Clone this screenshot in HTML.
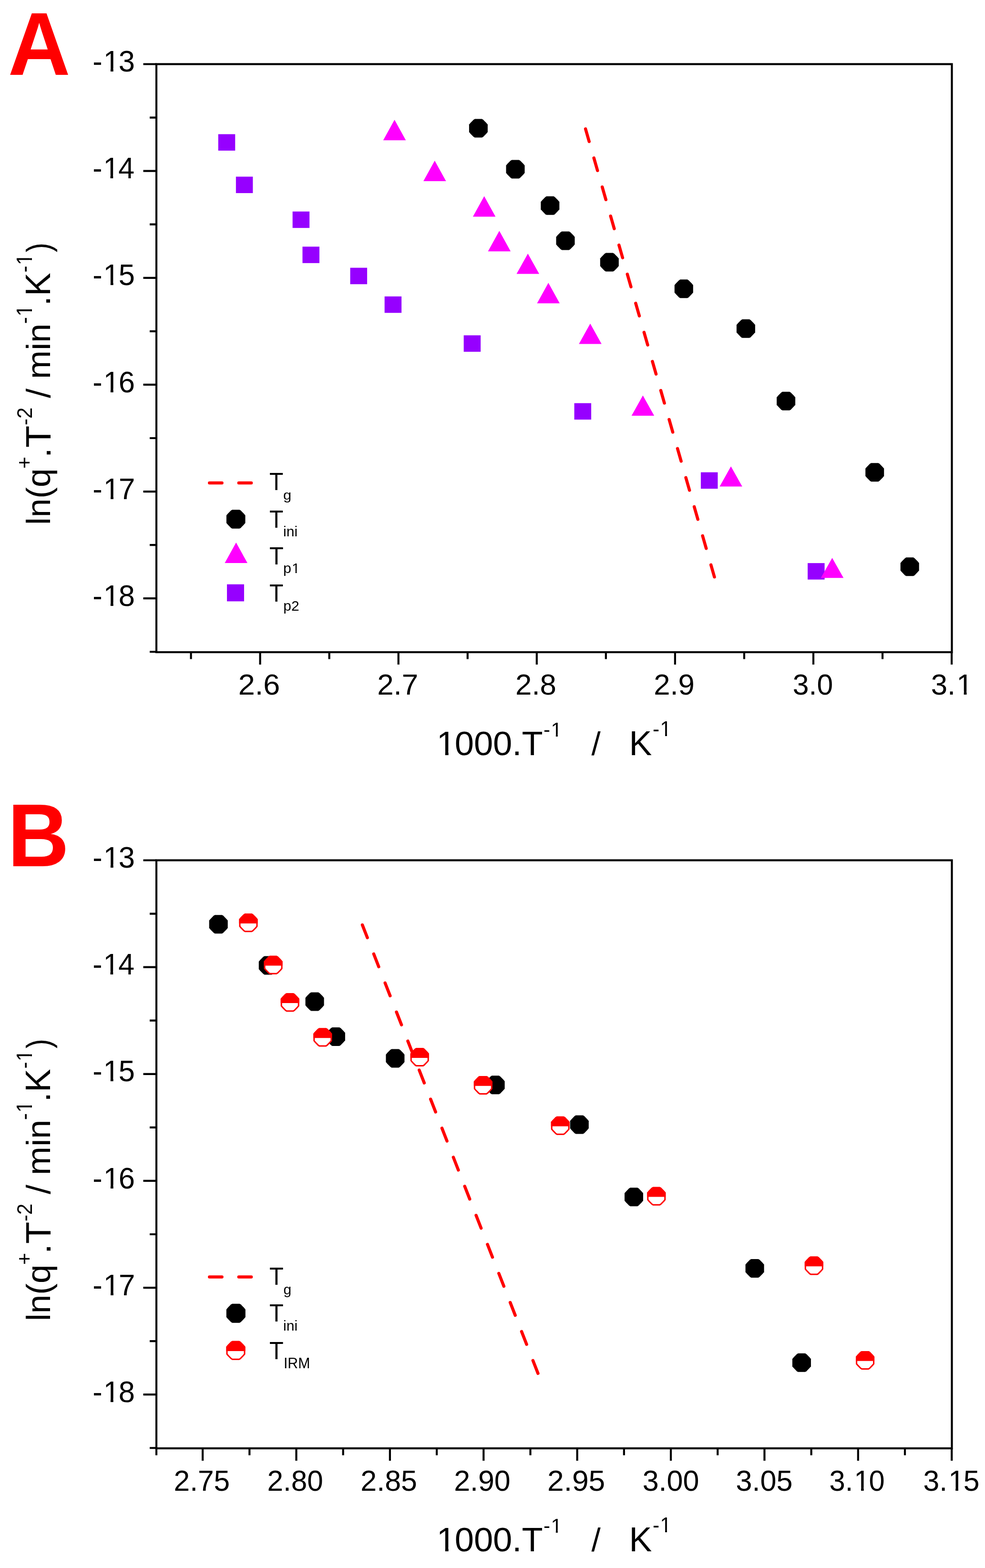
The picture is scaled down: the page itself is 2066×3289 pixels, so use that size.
<!DOCTYPE html>
<html lang="en"><head><meta charset="utf-8"><title>ln(q+.T-2) vs 1000/T</title>
<style>html,body{margin:0;padding:0;background:#fff;}body{width:2066px;height:3289px;overflow:hidden;}svg{display:block;}text{font-kerning:none;}</style>
</head><body>
<svg width="2066" height="3289" viewBox="0 0 2066 3289" font-family="'Liberation Sans', Arial, Helvetica, sans-serif">
<defs><clipPath id="c1" clipPathUnits="userSpaceOnUse"><rect x="-20" y="-120" width="140" height="108.53"/><rect x="24.85" y="-13.47" width="9.44" height="15.47"/></clipPath></defs>
<path d="M300.5 134.50H328.0 M300.5 358.64H328.0 M300.5 582.78H328.0 M300.5 806.92H328.0 M300.5 1031.06H328.0 M300.5 1255.20H328.0 M314 246.57H328.0 M314 470.71H328.0 M314 694.85H328.0 M314 918.99H328.0 M314 1143.13H328.0 M314 1367.27H328.0 M545.60 1368.00V1394.00 M835.70 1368.00V1394.00 M1125.80 1368.00V1394.00 M1415.90 1368.00V1394.00 M1706.00 1368.00V1394.00 M1996.10 1368.00V1394.00 M400.55 1368.00V1382.50 M690.65 1368.00V1382.50 M980.75 1368.00V1382.50 M1270.85 1368.00V1382.50 M1560.95 1368.00V1382.50 M1851.05 1368.00V1382.50" stroke="#000" stroke-width="4.2" fill="none"/>
<rect x="328.0" y="134.5" width="1668.5" height="1233.5" fill="none" stroke="#000" stroke-width="4.2"/>
<g transform="translate(194.17,150.10) scale(0.61388,0.62500)"><text x="0.0" font-size="100" fill="#000" xml:space="preserve">-</text><g transform="translate(36.6,0)"><text font-size="100" fill="#000" clip-path="url(#c1)">1</text></g><text x="88.9" font-size="100" fill="#000" xml:space="preserve">3</text></g>
<g transform="translate(194.20,374.24) scale(0.60733,0.62500)"><text x="0.0" font-size="100" fill="#000" xml:space="preserve">-</text><g transform="translate(36.6,0)"><text font-size="100" fill="#000" clip-path="url(#c1)">1</text></g><text x="88.9" font-size="100" fill="#000" xml:space="preserve">4</text></g>
<g transform="translate(194.18,598.38) scale(0.61300,0.62500)"><text x="0.0" font-size="100" fill="#000" xml:space="preserve">-</text><g transform="translate(36.6,0)"><text font-size="100" fill="#000" clip-path="url(#c1)">1</text></g><text x="88.9" font-size="100" fill="#000" xml:space="preserve">5</text></g>
<g transform="translate(194.17,822.52) scale(0.61388,0.62500)"><text x="0.0" font-size="100" fill="#000" xml:space="preserve">-</text><g transform="translate(36.6,0)"><text font-size="100" fill="#000" clip-path="url(#c1)">1</text></g><text x="88.9" font-size="100" fill="#000" xml:space="preserve">6</text></g>
<g transform="translate(194.16,1046.66) scale(0.61677,0.62500)"><text x="0.0" font-size="100" fill="#000" xml:space="preserve">-</text><g transform="translate(36.6,0)"><text font-size="100" fill="#000" clip-path="url(#c1)">1</text></g><text x="88.9" font-size="100" fill="#000" xml:space="preserve">7</text></g>
<g transform="translate(194.17,1270.80) scale(0.61366,0.62500)"><text x="0.0" font-size="100" fill="#000" xml:space="preserve">-</text><g transform="translate(36.6,0)"><text font-size="100" fill="#000" clip-path="url(#c1)">1</text></g><text x="88.9" font-size="100" fill="#000" xml:space="preserve">8</text></g>
<g transform="translate(499.83,1457.20) scale(0.62968,0.61017)"><text x="0.0" font-size="100" fill="#000" xml:space="preserve">2.6</text></g>
<g transform="translate(791.19,1457.20) scale(0.61804,0.61017)"><text x="0.0" font-size="100" fill="#000" xml:space="preserve">2.7</text></g>
<g transform="translate(1081.10,1457.20) scale(0.61710,0.61017)"><text x="0.0" font-size="100" fill="#000" xml:space="preserve">2.8</text></g>
<g transform="translate(1371.20,1457.20) scale(0.61664,0.61017)"><text x="0.0" font-size="100" fill="#000" xml:space="preserve">2.9</text></g>
<g transform="translate(1662.79,1457.20) scale(0.60701,0.61017)"><text x="0.0" font-size="100" fill="#000" xml:space="preserve">3.0</text></g>
<g transform="translate(1952.75,1457.20) scale(0.61776,0.61017)"><text x="0.0" font-size="100" fill="#000" xml:space="preserve">3.</text><g transform="translate(86.7,0)"><text font-size="100" fill="#000" clip-path="url(#c1)">1</text></g></g>
<g transform="translate(913.45,1584.12) scale(0.72337,0.70056)"><g transform="translate(3.3,0)"><text font-size="100" fill="#000" clip-path="url(#c1)">1</text></g><text x="55.6" font-size="100" fill="#000" xml:space="preserve">000.T</text></g>
<g transform="translate(1140.03,1544.60) scale(0.42031,0.43169)"><text x="0.0" font-size="100" fill="#000" xml:space="preserve">-</text><g transform="translate(36.6,0)"><text font-size="100" fill="#000" clip-path="url(#c1)">1</text></g></g>
<g transform="translate(1240.40,1583.94) scale(0.69107,0.67677)"><text x="0.0" font-size="100" fill="#000" xml:space="preserve">/</text></g>
<g transform="translate(1319.41,1584.30) scale(0.71811,0.71658)"><text x="0.0" font-size="100" fill="#000" xml:space="preserve">K</text></g>
<g transform="translate(1369.02,1544.40) scale(0.42333,0.43460)"><text x="0.0" font-size="100" fill="#000" xml:space="preserve">-</text><g transform="translate(36.6,0)"><text font-size="100" fill="#000" clip-path="url(#c1)">1</text></g></g>
<g transform="rotate(-90)"><g transform="translate(-1101.10,105.16) scale(0.71283,0.71020)"><text x="0.0" font-size="100" fill="#000" xml:space="preserve">ln(q</text></g><g transform="translate(-982.91,66.26) scale(0.43224,0.43944)"><text x="0.0" font-size="100" fill="#000" xml:space="preserve">+</text></g><g transform="translate(-960.13,105.60) scale(0.75928,0.74565)"><text x="0.0" font-size="100" fill="#000" xml:space="preserve">.T</text></g><g transform="translate(-891.97,66.70) scale(0.42168,0.44827)"><text x="0.0" font-size="100" fill="#000" xml:space="preserve">-2</text></g><g transform="translate(-835.00,105.12) scale(0.72120,0.70128)"><text x="0.0" font-size="100" fill="#000" xml:space="preserve">/ min</text></g><g transform="translate(-679.31,67.00) scale(0.42938,0.46076)"><text x="0.0" font-size="100" fill="#000" xml:space="preserve">-</text><g transform="translate(36.6,0)"><text font-size="100" fill="#000" clip-path="url(#c1)">1</text></g></g><g transform="translate(-641.39,105.40) scale(0.73253,0.74711)"><text x="0.0" font-size="100" fill="#000" xml:space="preserve">.K</text></g><g transform="translate(-571.58,67.00) scale(0.42333,0.46076)"><text x="0.0" font-size="100" fill="#000" xml:space="preserve">-</text><g transform="translate(36.6,0)"><text font-size="100" fill="#000" clip-path="url(#c1)">1</text></g></g><g transform="translate(-529.05,105.13) scale(0.59592,0.70843)"><text x="0.0" font-size="100" fill="#000" xml:space="preserve">)</text></g></g>
<g transform="translate(16.69,156.90) scale(1.81249,1.87358)"><text x="0.0" font-size="100" fill="#f00" font-weight="bold" xml:space="preserve">A</text></g>
<path d="M1228.1 270.3L1498.5 1210.3" stroke="#f00" stroke-width="6.5" stroke-linecap="round" stroke-dasharray="27.6 35.84" fill="none"/>
<rect x="457.75" y="281.45" width="35.5" height="34.5" fill="#9600ff"/>
<rect x="494.85" y="370.55" width="35.5" height="34.5" fill="#9600ff"/>
<rect x="613.65" y="443.65" width="35.5" height="34.5" fill="#9600ff"/>
<rect x="634.45" y="517.35" width="35.5" height="34.5" fill="#9600ff"/>
<rect x="734.55" y="561.65" width="35.5" height="34.5" fill="#9600ff"/>
<rect x="806.65" y="621.75" width="35.5" height="34.5" fill="#9600ff"/>
<rect x="972.65" y="703.35" width="35.5" height="34.5" fill="#9600ff"/>
<rect x="1204.55" y="845.65" width="35.5" height="34.5" fill="#9600ff"/>
<rect x="1469.95" y="990.65" width="35.5" height="34.5" fill="#9600ff"/>
<rect x="1694.05" y="1181.15" width="35.5" height="34.5" fill="#9600ff"/>
<path d="M827.50 251.20L851.25 294.20H803.75Z" fill="#ff00ff"/>
<path d="M911.80 337.10L935.55 380.10H888.05Z" fill="#ff00ff"/>
<path d="M1015.60 411.50L1039.35 454.50H991.85Z" fill="#ff00ff"/>
<path d="M1047.30 484.20L1071.05 527.20H1023.55Z" fill="#ff00ff"/>
<path d="M1107.20 532.10L1130.95 574.40H1083.45Z" fill="#ff00ff"/>
<path d="M1150.20 593.30L1173.95 636.20H1126.45Z" fill="#ff00ff"/>
<path d="M1238.00 678.70L1261.75 721.60H1214.25Z" fill="#ff00ff"/>
<path d="M1348.40 829.40L1372.15 872.00H1324.65Z" fill="#ff00ff"/>
<path d="M1533.10 978.30L1556.85 1020.60H1509.35Z" fill="#ff00ff"/>
<path d="M1745.50 1170.30L1769.25 1212.30H1721.75Z" fill="#ff00ff"/>
<path d="M1010.94 249.60L1013.55 251.21L1019.78 257.54L1022.90 261.26L1022.90 276.94L1019.78 280.66L1013.55 286.99L1010.94 288.60L995.86 288.60L993.25 286.99L987.02 280.66L983.90 276.94L983.90 261.26L987.02 257.54L993.25 251.21L995.86 249.60Z" fill="#000"/>
<path d="M1088.54 335.40L1091.15 337.01L1097.38 343.34L1100.50 347.06L1100.50 362.74L1097.38 366.46L1091.15 372.79L1088.54 374.40L1073.46 374.40L1070.85 372.79L1064.62 366.46L1061.50 362.74L1061.50 347.06L1064.62 343.34L1070.85 337.01L1073.46 335.40Z" fill="#000"/>
<path d="M1161.34 411.80L1163.95 413.41L1170.18 419.74L1173.30 423.46L1173.30 439.14L1170.18 442.86L1163.95 449.19L1161.34 450.80L1146.26 450.80L1143.65 449.19L1137.42 442.86L1134.30 439.14L1134.30 423.46L1137.42 419.74L1143.65 413.41L1146.26 411.80Z" fill="#000"/>
<path d="M1193.54 485.40L1196.15 487.01L1202.38 493.34L1205.50 497.06L1205.50 512.74L1202.38 516.46L1196.15 522.79L1193.54 524.40L1178.46 524.40L1175.85 522.79L1169.62 516.46L1166.50 512.74L1166.50 497.06L1169.62 493.34L1175.85 487.01L1178.46 485.40Z" fill="#000"/>
<path d="M1285.84 530.60L1288.45 532.21L1294.68 538.54L1297.80 542.26L1297.80 557.94L1294.68 561.66L1288.45 567.99L1285.84 569.60L1270.76 569.60L1268.15 567.99L1261.92 561.66L1258.80 557.94L1258.80 542.26L1261.92 538.54L1268.15 532.21L1270.76 530.60Z" fill="#000"/>
<path d="M1441.84 586.30L1444.45 587.91L1450.68 594.24L1453.80 597.96L1453.80 613.64L1450.68 617.36L1444.45 623.69L1441.84 625.30L1426.76 625.30L1424.15 623.69L1417.92 617.36L1414.80 613.64L1414.80 597.96L1417.92 594.24L1424.15 587.91L1426.76 586.30Z" fill="#000"/>
<path d="M1571.94 669.80L1574.55 671.41L1580.78 677.74L1583.90 681.46L1583.90 697.14L1580.78 700.86L1574.55 707.19L1571.94 708.80L1556.86 708.80L1554.25 707.19L1548.02 700.86L1544.90 697.14L1544.90 681.46L1548.02 677.74L1554.25 671.41L1556.86 669.80Z" fill="#000"/>
<path d="M1656.14 821.80L1658.75 823.41L1664.98 829.74L1668.10 833.46L1668.10 849.14L1664.98 852.86L1658.75 859.19L1656.14 860.80L1641.06 860.80L1638.45 859.19L1632.22 852.86L1629.10 849.14L1629.10 833.46L1632.22 829.74L1638.45 823.41L1641.06 821.80Z" fill="#000"/>
<path d="M1842.24 971.20L1844.85 972.81L1851.08 979.14L1854.20 982.86L1854.20 998.54L1851.08 1002.26L1844.85 1008.59L1842.24 1010.20L1827.16 1010.20L1824.55 1008.59L1818.32 1002.26L1815.20 998.54L1815.20 982.86L1818.32 979.14L1824.55 972.81L1827.16 971.20Z" fill="#000"/>
<path d="M1915.74 1169.30L1918.35 1170.91L1924.58 1177.24L1927.70 1180.96L1927.70 1196.64L1924.58 1200.36L1918.35 1206.69L1915.74 1208.30L1900.66 1208.30L1898.05 1206.69L1891.82 1200.36L1888.70 1196.64L1888.70 1180.96L1891.82 1177.24L1898.05 1170.91L1900.66 1169.30Z" fill="#000"/>
<path d="M439.35 1013.1H465.55M500.85 1013.1H527.05" stroke="#f00" stroke-width="6.5" stroke-linecap="round"/>
<path d="M502.35 1069.20L505.01 1070.83L511.34 1077.26L514.50 1081.04L514.50 1096.96L511.34 1100.74L505.01 1107.17L502.35 1108.80L487.05 1108.80L484.39 1107.17L478.06 1100.74L474.90 1096.96L474.90 1081.04L478.06 1077.26L484.39 1070.83L487.05 1069.20Z" fill="#000"/>
<path d="M495.20 1138.10L519.00 1181.10H471.40Z" fill="#ff00ff"/>
<rect x="476.05" y="1225.65" width="35.9" height="35.7" fill="#9600ff"/>
<g transform="translate(565.02,1027.90) scale(0.47928,0.51890)"><text x="0.0" font-size="100" fill="#000" xml:space="preserve">T</text></g>
<g transform="translate(594.00,1047.79) scale(0.30909,0.28489)"><text x="0.0" font-size="100" fill="#000" xml:space="preserve">g</text></g>
<g transform="translate(565.02,1106.90) scale(0.47928,0.51454)"><text x="0.0" font-size="100" fill="#000" xml:space="preserve">T</text></g>
<g transform="translate(593.98,1125.40) scale(0.30131,0.29119)"><text x="0.0" font-size="100" fill="#000" xml:space="preserve">ini</text></g>
<g transform="translate(564.91,1184.00) scale(0.48636,0.51309)"><text x="0.0" font-size="100" fill="#000" xml:space="preserve">T</text></g>
<g transform="translate(594.03,1201.79) scale(0.30536,0.29927)"><text x="0.0" font-size="100" fill="#000" xml:space="preserve">p</text><g transform="translate(58.9,0)"><text font-size="100" fill="#000" clip-path="url(#c1)">1</text></g></g>
<g transform="translate(565.02,1261.50) scale(0.48105,0.51890)"><text x="0.0" font-size="100" fill="#000" xml:space="preserve">T</text></g>
<g transform="translate(594.27,1280.85) scale(0.29973,0.29147)"><text x="0.0" font-size="100" fill="#000" xml:space="preserve">p2</text></g>
<path d="M300.5 1804.50H328.0 M300.5 2028.64H328.0 M300.5 2252.78H328.0 M300.5 2476.92H328.0 M300.5 2701.06H328.0 M300.5 2925.20H328.0 M314 1916.57H328.0 M314 2140.71H328.0 M314 2364.85H328.0 M314 2588.99H328.0 M314 2813.13H328.0 M314 3037.27H328.0 M425.10 3038.00V3064.00 M621.49 3038.00V3064.00 M817.88 3038.00V3064.00 M1014.27 3038.00V3064.00 M1210.66 3038.00V3064.00 M1407.05 3038.00V3064.00 M1603.44 3038.00V3064.00 M1799.83 3038.00V3064.00 M1996.22 3038.00V3064.00 M328.00 3038.00V3052.50 M523.29 3038.00V3052.50 M719.68 3038.00V3052.50 M916.07 3038.00V3052.50 M1112.46 3038.00V3052.50 M1308.85 3038.00V3052.50 M1505.24 3038.00V3052.50 M1701.63 3038.00V3052.50 M1898.02 3038.00V3052.50" stroke="#000" stroke-width="4.2" fill="none"/>
<rect x="328.0" y="1804.5" width="1668.5" height="1233.5" fill="none" stroke="#000" stroke-width="4.2"/>
<g transform="translate(194.17,1820.10) scale(0.61388,0.62500)"><text x="0.0" font-size="100" fill="#000" xml:space="preserve">-</text><g transform="translate(36.6,0)"><text font-size="100" fill="#000" clip-path="url(#c1)">1</text></g><text x="88.9" font-size="100" fill="#000" xml:space="preserve">3</text></g>
<g transform="translate(194.20,2044.24) scale(0.60733,0.62500)"><text x="0.0" font-size="100" fill="#000" xml:space="preserve">-</text><g transform="translate(36.6,0)"><text font-size="100" fill="#000" clip-path="url(#c1)">1</text></g><text x="88.9" font-size="100" fill="#000" xml:space="preserve">4</text></g>
<g transform="translate(194.18,2268.38) scale(0.61300,0.62500)"><text x="0.0" font-size="100" fill="#000" xml:space="preserve">-</text><g transform="translate(36.6,0)"><text font-size="100" fill="#000" clip-path="url(#c1)">1</text></g><text x="88.9" font-size="100" fill="#000" xml:space="preserve">5</text></g>
<g transform="translate(194.17,2492.52) scale(0.61388,0.62500)"><text x="0.0" font-size="100" fill="#000" xml:space="preserve">-</text><g transform="translate(36.6,0)"><text font-size="100" fill="#000" clip-path="url(#c1)">1</text></g><text x="88.9" font-size="100" fill="#000" xml:space="preserve">6</text></g>
<g transform="translate(194.16,2716.66) scale(0.61677,0.62500)"><text x="0.0" font-size="100" fill="#000" xml:space="preserve">-</text><g transform="translate(36.6,0)"><text font-size="100" fill="#000" clip-path="url(#c1)">1</text></g><text x="88.9" font-size="100" fill="#000" xml:space="preserve">7</text></g>
<g transform="translate(194.17,2940.80) scale(0.61366,0.62500)"><text x="0.0" font-size="100" fill="#000" xml:space="preserve">-</text><g transform="translate(36.6,0)"><text font-size="100" fill="#000" clip-path="url(#c1)">1</text></g><text x="88.9" font-size="100" fill="#000" xml:space="preserve">8</text></g>
<g transform="translate(364.56,3127.20) scale(0.60410,0.61017)"><text x="0.0" font-size="100" fill="#000" xml:space="preserve">2.75</text></g>
<g transform="translate(560.47,3127.20) scale(0.60314,0.61017)"><text x="0.0" font-size="100" fill="#000" xml:space="preserve">2.80</text></g>
<g transform="translate(756.33,3127.20) scale(0.60949,0.61017)"><text x="0.0" font-size="100" fill="#000" xml:space="preserve">2.85</text></g>
<g transform="translate(952.24,3127.20) scale(0.60853,0.61017)"><text x="0.0" font-size="100" fill="#000" xml:space="preserve">2.90</text></g>
<g transform="translate(1147.96,3127.20) scale(0.62352,0.61017)"><text x="0.0" font-size="100" fill="#000" xml:space="preserve">2.95</text></g>
<g transform="translate(1347.68,3127.20) scale(0.60991,0.61017)"><text x="0.0" font-size="100" fill="#000" xml:space="preserve">3.00</text></g>
<g transform="translate(1543.57,3127.20) scale(0.61086,0.61017)"><text x="0.0" font-size="100" fill="#000" xml:space="preserve">3.05</text></g>
<g transform="translate(1739.53,3127.20) scale(0.59653,0.61017)"><text x="0.0" font-size="100" fill="#000" xml:space="preserve">3.</text><g transform="translate(86.7,0)"><text font-size="100" fill="#000" clip-path="url(#c1)">1</text></g><text x="139.0" font-size="100" fill="#000" xml:space="preserve">0</text></g>
<g transform="translate(1936.49,3127.20) scale(0.60711,0.61017)"><text x="0.0" font-size="100" fill="#000" xml:space="preserve">3.</text><g transform="translate(86.7,0)"><text font-size="100" fill="#000" clip-path="url(#c1)">1</text></g><text x="139.0" font-size="100" fill="#000" xml:space="preserve">5</text></g>
<g transform="translate(913.45,3254.12) scale(0.72337,0.70056)"><g transform="translate(3.3,0)"><text font-size="100" fill="#000" clip-path="url(#c1)">1</text></g><text x="55.6" font-size="100" fill="#000" xml:space="preserve">000.T</text></g>
<g transform="translate(1140.03,3214.60) scale(0.42031,0.43169)"><text x="0.0" font-size="100" fill="#000" xml:space="preserve">-</text><g transform="translate(36.6,0)"><text font-size="100" fill="#000" clip-path="url(#c1)">1</text></g></g>
<g transform="translate(1240.40,3253.94) scale(0.69107,0.67677)"><text x="0.0" font-size="100" fill="#000" xml:space="preserve">/</text></g>
<g transform="translate(1319.41,3254.30) scale(0.71811,0.71658)"><text x="0.0" font-size="100" fill="#000" xml:space="preserve">K</text></g>
<g transform="translate(1369.02,3214.40) scale(0.42333,0.43460)"><text x="0.0" font-size="100" fill="#000" xml:space="preserve">-</text><g transform="translate(36.6,0)"><text font-size="100" fill="#000" clip-path="url(#c1)">1</text></g></g>
<g transform="rotate(-90)"><g transform="translate(-2771.10,105.16) scale(0.71283,0.71020)"><text x="0.0" font-size="100" fill="#000" xml:space="preserve">ln(q</text></g><g transform="translate(-2652.91,66.26) scale(0.43224,0.43944)"><text x="0.0" font-size="100" fill="#000" xml:space="preserve">+</text></g><g transform="translate(-2630.13,105.60) scale(0.75928,0.74565)"><text x="0.0" font-size="100" fill="#000" xml:space="preserve">.T</text></g><g transform="translate(-2561.97,66.70) scale(0.42168,0.44827)"><text x="0.0" font-size="100" fill="#000" xml:space="preserve">-2</text></g><g transform="translate(-2505.00,105.12) scale(0.72120,0.70128)"><text x="0.0" font-size="100" fill="#000" xml:space="preserve">/ min</text></g><g transform="translate(-2349.31,67.00) scale(0.42938,0.46076)"><text x="0.0" font-size="100" fill="#000" xml:space="preserve">-</text><g transform="translate(36.6,0)"><text font-size="100" fill="#000" clip-path="url(#c1)">1</text></g></g><g transform="translate(-2311.39,105.40) scale(0.73253,0.74711)"><text x="0.0" font-size="100" fill="#000" xml:space="preserve">.K</text></g><g transform="translate(-2241.58,67.00) scale(0.42333,0.46076)"><text x="0.0" font-size="100" fill="#000" xml:space="preserve">-</text><g transform="translate(36.6,0)"><text font-size="100" fill="#000" clip-path="url(#c1)">1</text></g></g><g transform="translate(-2199.05,105.13) scale(0.59592,0.70843)"><text x="0.0" font-size="100" fill="#000" xml:space="preserve">)</text></g></g>
<g transform="translate(16.07,1816.60) scale(1.78401,1.86922)"><text x="0.0" font-size="100" fill="#f00" font-weight="bold" xml:space="preserve">B</text></g>
<path d="M760.0 1940.0L1128.4 2880.8" stroke="#f00" stroke-width="6.5" stroke-linecap="round" stroke-dasharray="28.9 36.53" fill="none"/>
<path d="M465.74 1919.20L468.35 1920.81L474.58 1927.14L477.70 1930.86L477.70 1946.54L474.58 1950.26L468.35 1956.59L465.74 1958.20L450.66 1958.20L448.05 1956.59L441.82 1950.26L438.70 1946.54L438.70 1930.86L441.82 1927.14L448.05 1920.81L450.66 1919.20Z" fill="#000"/>
<path d="M569.84 2005.40L572.45 2007.01L578.68 2013.34L581.80 2017.06L581.80 2032.74L578.68 2036.46L572.45 2042.79L569.84 2044.40L554.76 2044.40L552.15 2042.79L545.92 2036.46L542.80 2032.74L542.80 2017.06L545.92 2013.34L552.15 2007.01L554.76 2005.40Z" fill="#000"/>
<path d="M667.64 2081.40L670.25 2083.01L676.48 2089.34L679.60 2093.06L679.60 2108.74L676.48 2112.46L670.25 2118.79L667.64 2120.40L652.56 2120.40L649.95 2118.79L643.72 2112.46L640.60 2108.74L640.60 2093.06L643.72 2089.34L649.95 2083.01L652.56 2081.40Z" fill="#000"/>
<path d="M711.94 2154.90L714.55 2156.51L720.78 2162.84L723.90 2166.56L723.90 2182.24L720.78 2185.96L714.55 2192.29L711.94 2193.90L696.86 2193.90L694.25 2192.29L688.02 2185.96L684.90 2182.24L684.90 2166.56L688.02 2162.84L694.25 2156.51L696.86 2154.90Z" fill="#000"/>
<path d="M836.44 2200.40L839.05 2202.01L845.28 2208.34L848.40 2212.06L848.40 2227.74L845.28 2231.46L839.05 2237.79L836.44 2239.40L821.36 2239.40L818.75 2237.79L812.52 2231.46L809.40 2227.74L809.40 2212.06L812.52 2208.34L818.75 2202.01L821.36 2200.40Z" fill="#000"/>
<path d="M1046.64 2256.30L1049.25 2257.91L1055.48 2264.24L1058.60 2267.96L1058.60 2283.64L1055.48 2287.36L1049.25 2293.69L1046.64 2295.30L1031.56 2295.30L1028.95 2293.69L1022.72 2287.36L1019.60 2283.64L1019.60 2267.96L1022.72 2264.24L1028.95 2257.91L1031.56 2256.30Z" fill="#000"/>
<path d="M1222.84 2339.50L1225.45 2341.11L1231.68 2347.44L1234.80 2351.16L1234.80 2366.84L1231.68 2370.56L1225.45 2376.89L1222.84 2378.50L1207.76 2378.50L1205.15 2376.89L1198.92 2370.56L1195.80 2366.84L1195.80 2351.16L1198.92 2347.44L1205.15 2341.11L1207.76 2339.50Z" fill="#000"/>
<path d="M1337.04 2491.20L1339.65 2492.81L1345.88 2499.14L1349.00 2502.86L1349.00 2518.54L1345.88 2522.26L1339.65 2528.59L1337.04 2530.20L1321.96 2530.20L1319.35 2528.59L1313.12 2522.26L1310.00 2518.54L1310.00 2502.86L1313.12 2499.14L1319.35 2492.81L1321.96 2491.20Z" fill="#000"/>
<path d="M1590.64 2640.90L1593.25 2642.51L1599.48 2648.84L1602.60 2652.56L1602.60 2668.24L1599.48 2671.96L1593.25 2678.29L1590.64 2679.90L1575.56 2679.90L1572.95 2678.29L1566.72 2671.96L1563.60 2668.24L1563.60 2652.56L1566.72 2648.84L1572.95 2642.51L1575.56 2640.90Z" fill="#000"/>
<path d="M1688.94 2838.80L1691.55 2840.41L1697.78 2846.74L1700.90 2850.46L1700.90 2866.14L1697.78 2869.86L1691.55 2876.19L1688.94 2877.80L1673.86 2877.80L1671.25 2876.19L1665.02 2869.86L1661.90 2866.14L1661.90 2850.46L1665.02 2846.74L1671.25 2840.41L1673.86 2838.80Z" fill="#000"/>
<path d="M527.96 1917.80L530.37 1919.28L536.12 1925.13L539.00 1928.56L539.00 1943.04L536.12 1946.47L530.37 1952.32L527.96 1953.80L514.04 1953.80L511.63 1952.32L505.88 1946.47L503.00 1943.04L503.00 1928.56L505.88 1925.13L511.63 1919.28L514.04 1917.80Z" fill="#fff" stroke="#f00" stroke-width="3.0" stroke-linejoin="round"/><path d="M501.50 1937.10L501.50 1927.96L504.62 1924.24L510.85 1917.91L513.46 1916.30L528.54 1916.30L531.15 1917.91L537.38 1924.24L540.50 1927.96L540.50 1937.10Z" fill="#f00"/>
<path d="M580.06 2006.30L582.47 2007.78L588.22 2013.63L591.10 2017.06L591.10 2031.54L588.22 2034.97L582.47 2040.82L580.06 2042.30L566.14 2042.30L563.73 2040.82L557.98 2034.97L555.10 2031.54L555.10 2017.06L557.98 2013.63L563.73 2007.78L566.14 2006.30Z" fill="#fff" stroke="#f00" stroke-width="3.0" stroke-linejoin="round"/><path d="M553.60 2025.60L553.60 2016.46L556.72 2012.74L562.95 2006.41L565.56 2004.80L580.64 2004.80L583.25 2006.41L589.48 2012.74L592.60 2016.46L592.60 2025.60Z" fill="#f00"/>
<path d="M615.16 2084.70L617.57 2086.18L623.32 2092.03L626.20 2095.46L626.20 2109.94L623.32 2113.37L617.57 2119.22L615.16 2120.70L601.24 2120.70L598.83 2119.22L593.08 2113.37L590.20 2109.94L590.20 2095.46L593.08 2092.03L598.83 2086.18L601.24 2084.70Z" fill="#fff" stroke="#f00" stroke-width="3.0" stroke-linejoin="round"/><path d="M588.70 2104.00L588.70 2094.86L591.82 2091.14L598.05 2084.81L600.66 2083.20L615.74 2083.20L618.35 2084.81L624.58 2091.14L627.70 2094.86L627.70 2104.00Z" fill="#f00"/>
<path d="M683.76 2157.90L686.17 2159.38L691.92 2165.23L694.80 2168.66L694.80 2183.14L691.92 2186.57L686.17 2192.42L683.76 2193.90L669.84 2193.90L667.43 2192.42L661.68 2186.57L658.80 2183.14L658.80 2168.66L661.68 2165.23L667.43 2159.38L669.84 2157.90Z" fill="#fff" stroke="#f00" stroke-width="3.0" stroke-linejoin="round"/><path d="M657.30 2177.20L657.30 2168.06L660.42 2164.34L666.65 2158.01L669.26 2156.40L684.34 2156.40L686.95 2158.01L693.18 2164.34L696.30 2168.06L696.30 2177.20Z" fill="#f00"/>
<path d="M887.16 2199.60L889.57 2201.08L895.32 2206.93L898.20 2210.36L898.20 2224.84L895.32 2228.27L889.57 2234.12L887.16 2235.60L873.24 2235.60L870.83 2234.12L865.08 2228.27L862.20 2224.84L862.20 2210.36L865.08 2206.93L870.83 2201.08L873.24 2199.60Z" fill="#fff" stroke="#f00" stroke-width="3.0" stroke-linejoin="round"/><path d="M860.70 2218.90L860.70 2209.76L863.82 2206.04L870.05 2199.71L872.66 2198.10L887.74 2198.10L890.35 2199.71L896.58 2206.04L899.70 2209.76L899.70 2218.90Z" fill="#f00"/>
<path d="M1020.26 2258.40L1022.67 2259.88L1028.42 2265.73L1031.30 2269.16L1031.30 2283.64L1028.42 2287.07L1022.67 2292.92L1020.26 2294.40L1006.34 2294.40L1003.93 2292.92L998.18 2287.07L995.30 2283.64L995.30 2269.16L998.18 2265.73L1003.93 2259.88L1006.34 2258.40Z" fill="#fff" stroke="#f00" stroke-width="3.0" stroke-linejoin="round"/><path d="M993.80 2277.70L993.80 2268.56L996.92 2264.84L1003.15 2258.51L1005.76 2256.90L1020.84 2256.90L1023.45 2258.51L1029.68 2264.84L1032.80 2268.56L1032.80 2277.70Z" fill="#f00"/>
<path d="M1182.16 2343.20L1184.57 2344.68L1190.32 2350.53L1193.20 2353.96L1193.20 2368.44L1190.32 2371.87L1184.57 2377.72L1182.16 2379.20L1168.24 2379.20L1165.83 2377.72L1160.08 2371.87L1157.20 2368.44L1157.20 2353.96L1160.08 2350.53L1165.83 2344.68L1168.24 2343.20Z" fill="#fff" stroke="#f00" stroke-width="3.0" stroke-linejoin="round"/><path d="M1155.70 2362.50L1155.70 2353.36L1158.82 2349.64L1165.05 2343.31L1167.66 2341.70L1182.74 2341.70L1185.35 2343.31L1191.58 2349.64L1194.70 2353.36L1194.70 2362.50Z" fill="#f00"/>
<path d="M1383.76 2491.30L1386.17 2492.78L1391.92 2498.63L1394.80 2502.06L1394.80 2516.54L1391.92 2519.97L1386.17 2525.82L1383.76 2527.30L1369.84 2527.30L1367.43 2525.82L1361.68 2519.97L1358.80 2516.54L1358.80 2502.06L1361.68 2498.63L1367.43 2492.78L1369.84 2491.30Z" fill="#fff" stroke="#f00" stroke-width="3.0" stroke-linejoin="round"/><path d="M1357.30 2510.60L1357.30 2501.46L1360.42 2497.74L1366.65 2491.41L1369.26 2489.80L1384.34 2489.80L1386.95 2491.41L1393.18 2497.74L1396.30 2501.46L1396.30 2510.60Z" fill="#f00"/>
<path d="M1714.26 2636.90L1716.67 2638.38L1722.42 2644.23L1725.30 2647.66L1725.30 2662.14L1722.42 2665.57L1716.67 2671.42L1714.26 2672.90L1700.34 2672.90L1697.93 2671.42L1692.18 2665.57L1689.30 2662.14L1689.30 2647.66L1692.18 2644.23L1697.93 2638.38L1700.34 2636.90Z" fill="#fff" stroke="#f00" stroke-width="3.0" stroke-linejoin="round"/><path d="M1687.80 2656.20L1687.80 2647.06L1690.92 2643.34L1697.15 2637.01L1699.76 2635.40L1714.84 2635.40L1717.45 2637.01L1723.68 2643.34L1726.80 2647.06L1726.80 2656.20Z" fill="#f00"/>
<path d="M1821.56 2835.50L1823.97 2836.98L1829.72 2842.83L1832.60 2846.26L1832.60 2860.74L1829.72 2864.17L1823.97 2870.02L1821.56 2871.50L1807.64 2871.50L1805.23 2870.02L1799.48 2864.17L1796.60 2860.74L1796.60 2846.26L1799.48 2842.83L1805.23 2836.98L1807.64 2835.50Z" fill="#fff" stroke="#f00" stroke-width="3.0" stroke-linejoin="round"/><path d="M1795.10 2854.80L1795.10 2845.66L1798.22 2841.94L1804.45 2835.61L1807.06 2834.00L1822.14 2834.00L1824.75 2835.61L1830.98 2841.94L1834.10 2845.66L1834.10 2854.80Z" fill="#f00"/>
<path d="M439.35 2678.6H465.55M500.85 2678.6H527.05" stroke="#f00" stroke-width="6.5" stroke-linecap="round"/>
<path d="M502.53 2734.70L505.21 2736.35L511.60 2742.84L514.80 2746.66L514.80 2762.74L511.60 2766.56L505.21 2773.05L502.53 2774.70L487.07 2774.70L484.39 2773.05L478.00 2766.56L474.80 2762.74L474.80 2746.66L478.00 2742.84L484.39 2736.35L487.07 2734.70Z" fill="#000"/>
<path d="M501.65 2814.30L504.13 2815.83L510.04 2821.83L513.00 2825.36L513.00 2840.24L510.04 2843.77L504.13 2849.77L501.65 2851.30L487.35 2851.30L484.87 2849.77L478.96 2843.77L476.00 2840.24L476.00 2825.36L478.96 2821.83L484.87 2815.83L487.35 2814.30Z" fill="#fff" stroke="#f00" stroke-width="3.0" stroke-linejoin="round"/><path d="M474.50 2834.10L474.50 2824.76L477.70 2820.94L484.09 2814.45L486.77 2812.80L502.23 2812.80L504.91 2814.45L511.30 2820.94L514.50 2824.76L514.50 2834.10Z" fill="#f00"/>
<g transform="translate(564.91,2694.80) scale(0.48636,0.51745)"><text x="0.0" font-size="100" fill="#000" xml:space="preserve">T</text></g>
<g transform="translate(594.44,2714.63) scale(0.30020,0.28758)"><text x="0.0" font-size="100" fill="#000" xml:space="preserve">g</text></g>
<g transform="translate(564.91,2772.20) scale(0.48636,0.51600)"><text x="0.0" font-size="100" fill="#000" xml:space="preserve">T</text></g>
<g transform="translate(593.98,2790.60) scale(0.30131,0.29119)"><text x="0.0" font-size="100" fill="#000" xml:space="preserve">ini</text></g>
<g transform="translate(564.91,2850.90) scale(0.48636,0.51745)"><text x="0.0" font-size="100" fill="#000" xml:space="preserve">T</text></g>
<g transform="translate(594.91,2869.80) scale(0.30265,0.31251)"><text x="0.0" font-size="100" fill="#000" xml:space="preserve">IRM</text></g>
</svg>
</body></html>
